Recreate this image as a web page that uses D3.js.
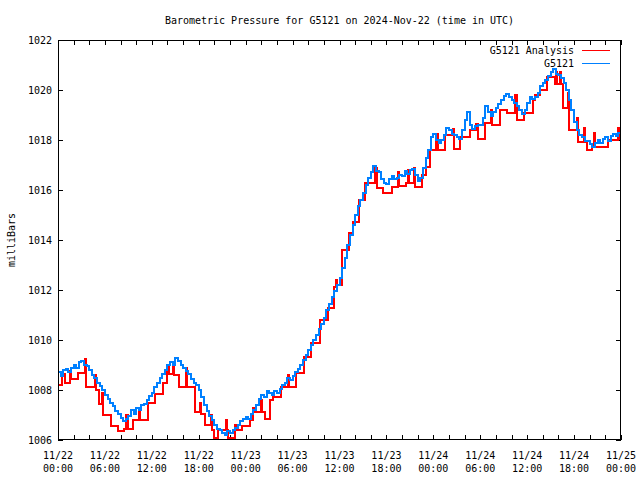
<!DOCTYPE html>
<html><head><meta charset="utf-8">
<script src="https://cdn.jsdelivr.net/npm/d3@7"></script>
<style>body{margin:0;background:#fff}svg{display:block}text{font-family:"DejaVu Sans Mono",monospace;font-size:10px;fill:#000}</style>
</head><body>
<script>
// Observations (G5121), every 20 minutes from 11/22 00:00 UTC
const obsStepHours = 1/3;
const obsValues = [
1008.7,1008.55,1008.8, 1008.85,1008.7,1008.9, 1009.0,1008.9,1009.1, 1009.15,1009.0,1008.95,
1008.8,1008.6,1008.5, 1008.3,1008.15,1008.0, 1007.8,1007.65,1007.5, 1007.35,1007.15,1007.05,
1006.9,1006.75,1006.85, 1006.95,1007.2,1007.05, 1007.3,1007.2,1007.4, 1007.45,1007.6,1007.75,
1007.9,1008.1,1008.3, 1008.5,1008.65,1008.8, 1009.0,1009.1,1009.0, 1009.3,1009.15,1009.0,
1008.9,1008.75,1008.65, 1008.45,1008.3,1008.2, 1008.0,1007.7,1007.4, 1007.15,1006.95,1006.8,
1006.6,1006.45,1006.4, 1006.3,1006.2,1006.35, 1006.3,1006.4,1006.5, 1006.6,1006.75,1006.85,
1006.93,1006.85,1007.05, 1007.2,1007.4,1007.65, 1007.8,1007.7,1007.95, 1007.9,1007.8,1007.95,
1007.9,1008.05,1008.2, 1008.3,1008.5,1008.4, 1008.55,1008.7,1008.85, 1009.0,1009.2,1009.4,
1009.6,1009.8,1010.0, 1010.2,1010.45,1010.65, 1010.9,1011.2,1011.45, 1011.7,1011.95,1012.2,
1012.5,1012.9,1013.3, 1013.8,1014.2,1014.6, 1015.0,1015.35,1015.6, 1015.9,1016.2,1016.5,
1016.7,1016.95,1016.75, 1016.7,1016.45,1016.3, 1016.25,1016.45,1016.55, 1016.45,1016.5,1016.6,
1016.55,1016.75,1016.65, 1016.8,1016.85,1016.6, 1016.35,1016.5,1016.9, 1017.3,1017.6,1018.1,
1018.25,1018.0,1017.9, 1018.0,1018.2,1018.5, 1018.4,1018.25,1018.2, 1018.1,1018.05,1018.4,
1018.8,1019.1,1018.6, 1018.45,1018.55,1018.6, 1018.6,1018.9,1019.35, 1019.1,1018.95,1019.1,
1019.3,1019.45,1019.6, 1019.75,1019.85,1019.7, 1019.6,1019.5,1019.35, 1019.2,1019.05,1019.2,
1019.5,1019.7,1019.65, 1019.7,1019.9,1020.15, 1020.3,1020.4,1020.55, 1020.7,1020.85,1020.65,
1020.6,1020.5,1020.3, 1020.0,1019.6,1019.2, 1018.7,1018.4,1018.2, 1018.1,1017.95,1017.95,
1017.85,1017.7,1017.9, 1018.0,1017.9,1018.05, 1018.1,1017.95,1018.15, 1018.25,1018.15,1018.3,
1018.4
];
// Analysis (G5121 Analysis): change points, hours since 11/22 00:00 UTC
const anaHours = [0,0.5,0.85,1.5,1.7,2.6,3.4,3.6,4.7,4.85,5.3,5.6,5.75,6.8,7.7,8.5,8.75,8.9,9.6,10.4,10.55,11.5,12.4,13.4,14.0,14.15,14.7,14.85,15.5,16.4,16.55,17.5,18.2,18.35,18.8,19.6,19.75,19.9,20.5,21.5,21.65,21.8,22.6,22.75,23.5,24.6,25.0,25.15,26.0,26.15,26.5,27.1,27.5,27.65,28.5,29.4,29.55,30.5,31.4,32.4,33.5,34.5,35.3,35.55,35.7,36.3,37.2,37.7,38.5,39.3,40.6,40.75,41.6,42.7,43.5,43.65,44.5,44.7,44.85,45.5,45.65,46.5,47.0,47.6,48.4,48.55,49.5,50.5,50.6,51.4,52.7,53.5,53.65,54.6,55.4,55.55,56.5,57.4,58.5,58.65,59.6,60.8,60.95,61.6,62.5,63.5,63.7,63.85,64.2,64.35,64.6,65.2,65.35,66.4,66.55,67.3,67.45,67.6,68.3,68.5,68.65,70.3,71.6,71.75,72];
const anaValues = [1008.2,1008.65,1008.27,1008.75,1008.43,1008.67,1009.25,1008.13,1008.6,1008.0,1007.45,1007.9,1007.0,1006.55,1006.35,1006.45,1007.0,1006.45,1006.8,1007.2,1006.8,1007.5,1007.85,1008.3,1009.0,1008.65,1009.1,1008.6,1008.1,1008.9,1008.1,1007.1,1007.5,1007.05,1006.6,1007.0,1006.4,1006.07,1006.4,1006.8,1006.4,1006.07,1006.6,1006.4,1006.55,1006.8,1007.3,1007.1,1007.6,1007.1,1006.85,1007.6,1007.9,1007.7,1008.1,1008.6,1008.1,1008.67,1009.33,1009.9,1010.8,1011.3,1012.1,1012.4,1012.2,1013.6,1014.3,1014.7,1015.6,1016.3,1016.9,1016.07,1015.87,1016.1,1016.7,1016.15,1016.3,1016.8,1016.3,1016.9,1016.1,1016.6,1016.93,1017.6,1018.25,1017.6,1018.2,1018.45,1017.65,1018.1,1018.4,1018.65,1018.03,1018.67,1019.2,1018.6,1019.2,1019.07,1019.8,1018.8,1019.07,1019.6,1019.8,1020.0,1020.53,1020.25,1020.7,1020.25,1020.7,1020.25,1019.3,1019.9,1018.4,1018.9,1017.93,1018.5,1017.93,1017.6,1017.73,1018.3,1017.73,1018.0,1018.5,1018.05,1018.1];

const yTicks = [1006,1008,1010,1012,1014,1016,1018,1020,1022];
const xLabelHours = [0,6,12,18,24,30,36,42,48,54,60,66,72];
const xLabelDates = ["11/22","11/22","11/22","11/22","11/23","11/23","11/23","11/23","11/24","11/24","11/24","11/24","11/25"];
const xLabelTimes = ["00:00","06:00","12:00","18:00","00:00","06:00","12:00","18:00","00:00","06:00","12:00","18:00","00:00"];
const seriesNames = ["G5121 Analysis","G5121"];
const seriesColors = ["#ff0000","#0080ff"];

const W=640,H=480, L=58,R=621,T=40,B=440;
const svg = d3.select("body").append("svg").attr("width",W).attr("height",H);
const x = d3.scaleLinear().domain([0,72]).range([L,R]);
const y = d3.scaleLinear().domain([1006,1022]).range([B,T]);

svg.append("defs").append("clipPath").attr("id","c").append("rect")
  .attr("x",L).attr("y",T).attr("width",R-L).attr("height",B-T);

// ticks (inward, mirrored)
const tk = g => { g.select(".domain").remove(); g.selectAll("line").attr("stroke","#000").attr("shape-rendering","crispEdges"); };
svg.append("g").attr("transform",`translate(0,${B})`).call(d3.axisBottom(x).tickValues(d3.range(0,73,2)).tickSize(-5).tickFormat("")).call(tk);
svg.append("g").attr("transform",`translate(0,${T})`).call(d3.axisTop(x).tickValues(d3.range(0,73,2)).tickSize(-5).tickFormat("")).call(tk);
svg.append("g").attr("transform",`translate(${L},0)`).call(d3.axisLeft(y).tickValues(yTicks).tickSize(-5).tickFormat("")).call(tk);
svg.append("g").attr("transform",`translate(${R},0)`).call(d3.axisRight(y).tickValues(yTicks).tickSize(-5).tickFormat("")).call(tk);

// y labels
svg.append("g").selectAll("text").data(yTicks).join("text")
  .attr("x",L-6).attr("y",d=>y(d)+4).attr("text-anchor","end").text(d=>d);
// x labels
const xl = svg.append("g").selectAll("text").data(xLabelHours).join("text")
  .attr("text-anchor","middle");
xl.append("tspan").attr("x",d=>x(d)).attr("y",459).text((d,i)=>xLabelDates[i]);
xl.append("tspan").attr("x",d=>x(d)).attr("y",472).text((d,i)=>xLabelTimes[i]);

// title & axis title
svg.append("text").attr("x",(L+R)/2).attr("y",24).attr("text-anchor","middle")
  .text("Barometric Pressure for G5121 on 2024-Nov-22 (time in UTC)");
svg.append("text").attr("transform","translate(15,240) rotate(-90)").attr("text-anchor","middle").text("milliBars");

// data
const plot = svg.append("g").attr("clip-path","url(#c)");
const line = d3.line().curve(d3.curveStepAfter).x(d=>Math.round(x(d[0]))).y(d=>Math.round(y(d[1])));
const anaData = anaHours.map((h,i)=>[h,anaValues[i]]);
const obsData = obsValues.map((v,i)=>[i*obsStepHours,v]);
plot.append("path").datum(anaData).attr("d",line).attr("fill","none").attr("stroke",seriesColors[0])
  .attr("stroke-width",2).attr("shape-rendering","crispEdges");
plot.append("path").datum(obsData).attr("d",line).attr("fill","none").attr("stroke",seriesColors[1])
  .attr("stroke-width",2).attr("shape-rendering","crispEdges");

// frame
svg.append("rect").attr("x",L+0.5).attr("y",T+0.5).attr("width",R-L-1).attr("height",B-T-1)
  .attr("fill","none").attr("stroke","#000").attr("stroke-width",1).attr("shape-rendering","crispEdges");

// legend
const lg = svg.append("g").selectAll("g").data(seriesNames).join("g")
  .attr("transform",(d,i)=>`translate(0,${50+i*12.5})`);
lg.append("text").attr("x",574).attr("y",4).attr("text-anchor","end").text(d=>d);
lg.append("line").attr("x1",582).attr("x2",610).attr("y1",0.5).attr("y2",0.5)
  .attr("stroke",(d,i)=>seriesColors[i]).attr("stroke-width",1).attr("shape-rendering","crispEdges");
</script>
</body></html>
